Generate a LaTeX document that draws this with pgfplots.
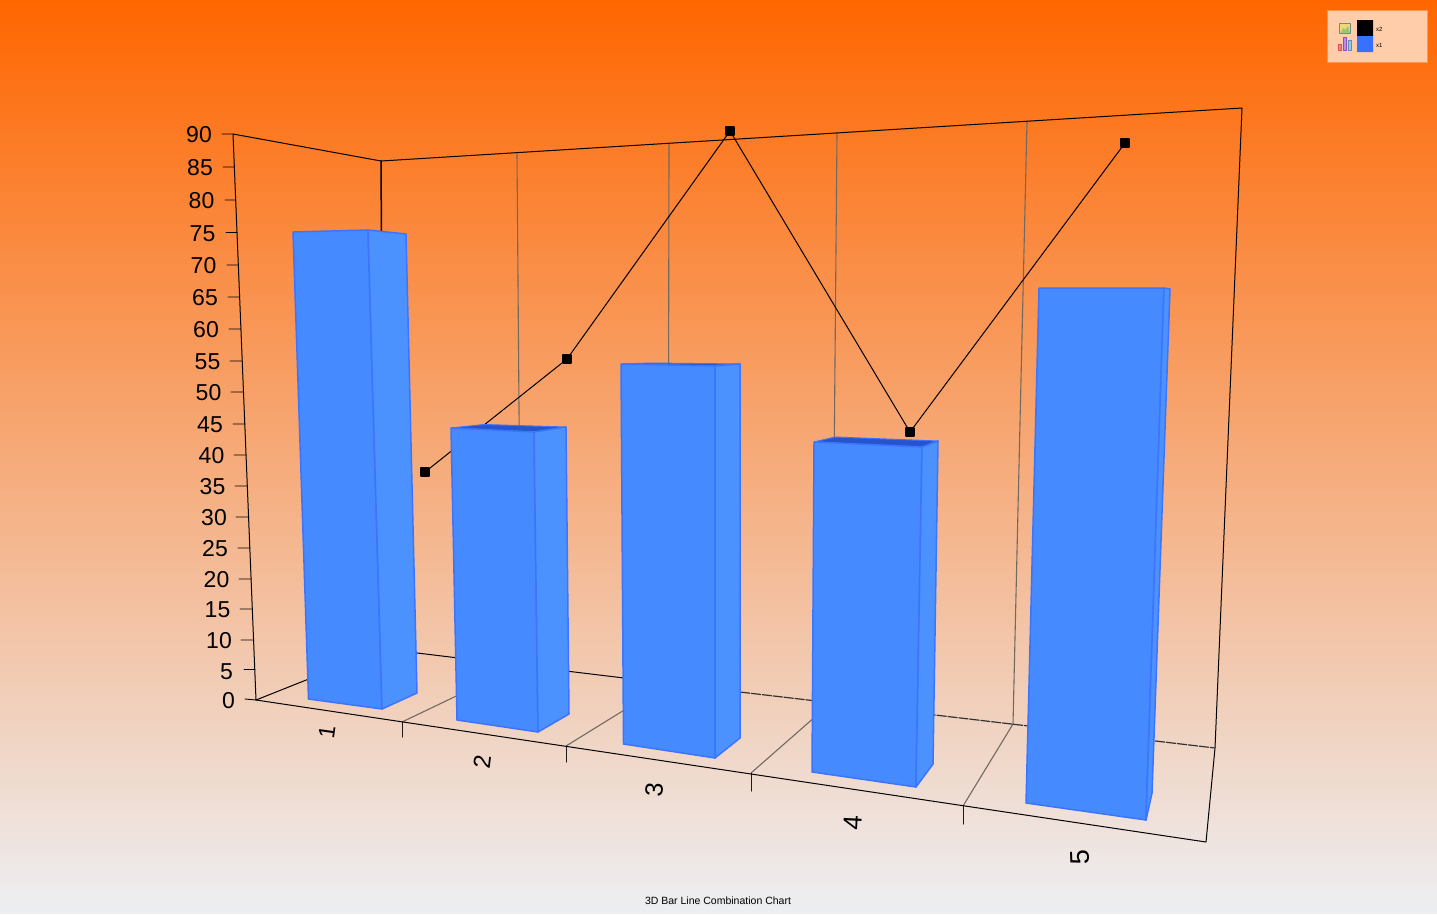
\documentclass[border=0pt]{standalone}
\usepackage{fontspec}
\setmainfont{Liberation Sans}
\usepackage{pgfplots}
\pgfplotsset{compat=1.18}
\definecolor{barfront}{RGB}{70,138,255}
\definecolor{barside}{RGB}{76,146,255}
\definecolor{baredge}{RGB}{60,116,255}
\definecolor{bartop}{RGB}{38,84,205}
\definecolor{gridc}{RGB}{115,105,95}
\definecolor{legbg}{RGB}{255,205,170}
\definecolor{legedge}{RGB}{255,150,80}
\definecolor{legblue}{RGB}{56,112,255}
\newcommand{\ylab}[3]{\node[anchor=east,inner sep=0pt,font=\fontsize{23}{23}\selectfont,text=black] at (axis cs:#1,#2+1) {#3};}
\newcommand{\xlab}[5]{\node[rotate=#4,inner sep=0pt,font=\fontsize{#5}{#5}\selectfont,text=black] at (axis cs:#1,#2+1.5) {#3};}
\begin{document}
\begin{tikzpicture}
% background gradient, painted as overlapping strips from top to bottom
\foreach \i in {0,2,...,912}{
  \pgfmathsetmacro{\t}{\i/914}
  \pgfmathsetmacro{\cr}{(255-18*\t)/255}
  \pgfmathsetmacro{\cg}{(102+137*\t)/255}
  \pgfmathsetmacro{\cb}{(243*\t)/255}
  \definecolor{strip}{rgb}{\cr,\cg,\cb}
  \fill[strip] (0pt,914pt-\i pt) rectangle (1437pt,0pt);
}
\begin{axis}[
  at={(0pt,0pt)}, anchor=south west,
  scale only axis, width=1437pt, height=914pt,
  xmin=0, xmax=1437, ymin=0, ymax=914, y dir=reverse,
  hide axis, clip=false, unbounded coords=jump,
  every axis plot/.append style={line join=round,line cap=round}
]
% back-wall grid verticals and floor grid lines
\addplot[gridc,line width=1.1pt] coordinates {
 (517,154)(521,665)(402,722)(nan,nan)
 (669,144)(668,683)(566,746)(nan,nan)
 (837,133)(832,702)(751,773)(nan,nan)
 (1027,121)(1013,724)(963,806)};
% x ticks
\addplot[black!75!gridc,line width=1pt] coordinates {
 (402,722)(402,737)(nan,nan)
 (566,746)(566,762)(nan,nan)
 (751,773)(751,791)(nan,nan)
 (963,806)(963,824)};
% y ticks
\addplot[black,line width=0.9pt] coordinates {
 (222,134)(233,134)(nan,nan)(223,167)(234.5,167)(nan,nan)(225,200)(235.8,200)(nan,nan)
 (226,232.5)(237,232.5)(nan,nan)(227,265)(238.5,265)(nan,nan)(228,297)(239.5,297)(nan,nan)
 (229,329)(240.8,329)(nan,nan)(230,361)(242,361)(nan,nan)(231,392)(243.5,392)(nan,nan)
 (233,424)(244.8,424)(nan,nan)(234,455)(246,455)(nan,nan)(235,486)(247.5,486)(nan,nan)
 (236,517)(248.8,517)(nan,nan)(238,548)(250,548)(nan,nan)(239,579)(251.2,579)(nan,nan)
 (240,609)(252.5,609)(nan,nan)(241,640)(253.8,640)(nan,nan)(244,669.5)(255,669.5)(nan,nan)
 (245,699)(256,700)};
% box frame
\addplot[black,line width=1pt] coordinates {(233,134)(256,700)(1206,842)(1215,748)(1242,108)(381,161)(233,134)};
\addplot[black,line width=1.5pt] coordinates {(381,161)(384,649)};
\addplot[black,line width=1pt] coordinates {(256,700)(384,649)(740,692)};
\addplot[black!80,line width=1.2pt,dash pattern=on 10pt off 1pt,line cap=butt] coordinates {(740,692)(1215,748)};
% line series
\addplot[black,line width=1pt,mark=square*,mark size=3.8pt,mark options={fill=black,line width=2.4pt,line join=round}] coordinates {
 (425,472)(567,359)(730,131)(910,432)(1125,143)};
% bars: bar 1
\addplot[fill=barfront,draw=baredge,line width=1.5pt] coordinates {(293,232)(368,230)(382,709)(308.5,699)(293,232)};
\addplot[fill=barside,draw=baredge,line width=1.5pt] coordinates {(368,230)(406,234)(417,693)(382,709)(368,230)};
% bar 2
\addplot[fill=bartop,draw=baredge,line width=1pt] coordinates {(451,428)(534,432)(566,427)(484,424.5)(451,428)};
\addplot[fill=barfront,draw=baredge,line width=1.5pt] coordinates {(451,428)(534,432)(538,732)(457,720)(451,428)};
\addplot[fill=barside,draw=baredge,line width=1.5pt] coordinates {(534,432)(566,427)(569,714)(538,732)(534,432)};
% bar 3
\addplot[fill=bartop,draw=baredge,line width=1pt] coordinates {(621,364)(715,366)(740,364)(650,363)(621,364)};
\addplot[fill=barfront,draw=baredge,line width=1.5pt] coordinates {(621,364)(715,366)(715,758)(623.5,744)(621,364)};
\addplot[fill=barside,draw=baredge,line width=1.5pt] coordinates {(715,366)(740,364)(740,738)(715,758)(715,366)};
% bar 4
\addplot[fill=bartop,draw=baredge,line width=1pt] coordinates {(814,442)(922,447)(938,441)(835,437)(814,442)};
\addplot[fill=barfront,draw=baredge,line width=1.5pt] coordinates {(814,442)(922,447)(916,787)(812,772)(814,442)};
\addplot[fill=barside,draw=baredge,line width=1.5pt] coordinates {(922,447)(938,441)(933,764)(916,787)(922,447)};
% bar 5
\addplot[fill=barfront,draw=baredge,line width=1.5pt] coordinates {(1039,288)(1164,288)(1146,820)(1026,803)(1039,288)};
\addplot[fill=barside,draw=baredge,line width=1.5pt] coordinates {(1164,288)(1170,289)(1152,793)(1146,820)(1164,288)};
% y labels
\ylab{212}{134}{90}\ylab{213}{167}{85}\ylab{214.5}{200}{80}\ylab{215.5}{232.5}{75}
\ylab{216.5}{265}{70}\ylab{218}{297}{65}\ylab{219}{329}{60}\ylab{220.5}{361}{55}
\ylab{221.5}{392}{50}\ylab{223}{424}{45}\ylab{224.5}{455}{40}\ylab{225.5}{486}{35}
\ylab{227}{517}{30}\ylab{228}{548}{25}\ylab{229.5}{579}{20}\ylab{230.5}{609}{15}
\ylab{232}{640}{10}\ylab{233}{671}{5}\ylab{235}{700}{0}
% x labels
\xlab{327}{731}{1}{82}{23}\xlab{482}{760}{2}{83}{24}\xlab{655}{788}{3}{85}{25}
\xlab{853}{821}{4}{87}{26}\xlab{1080}{856}{5}{92}{27}
% title
\node[inner sep=0pt,font=\fontsize{10.5}{10.5}\selectfont,text=black] at (axis cs:718,900.5) {3D Bar Line Combination Chart};
% legend
\addplot[fill=legbg,draw=legedge,line width=0.8pt] coordinates {(1327,10)(1427,10)(1427,62)(1327,62)(1327,10)};
\addplot[fill=black,draw=none] coordinates {(1357,20)(1373,20)(1373,36)(1357,36)(1357,20)};
\addplot[fill=legblue,draw=none] coordinates {(1357,36)(1373,36)(1373,52)(1357,52)(1357,36)};
\addplot[fill={rgb,255:red,240;green,215;blue,120},draw={rgb,255:red,110;green,140;blue,130},line width=0.8pt] coordinates {(1339.5,23.5)(1350.5,23.5)(1350.5,33.5)(1339.5,33.5)(1339.5,23.5)};
\addplot[fill={rgb,255:red,150;green,200;blue,120},draw=none] coordinates {(1340.5,33)(1343,28)(1345,30)(1348,26)(1350,33)(1340.5,33)};
\addplot[fill={rgb,255:red,240;green,130;blue,130},draw={rgb,255:red,225;green,80;blue,90},line width=0.7pt] coordinates {(1338.5,44.5)(1341.5,44.5)(1341.5,50.5)(1338.5,50.5)(1338.5,44.5)};
\addplot[fill={rgb,255:red,190;green,140;blue,230},draw={rgb,255:red,140;green,80;blue,190},line width=0.7pt] coordinates {(1343.5,37.5)(1346.5,37.5)(1346.5,50.5)(1343.5,50.5)(1343.5,37.5)};
\addplot[fill={rgb,255:red,150;green,200;blue,235},draw={rgb,255:red,90;green,140;blue,180},line width=0.7pt] coordinates {(1348.5,40.5)(1351.5,40.5)(1351.5,50.5)(1348.5,50.5)(1348.5,40.5)};
\node[anchor=west,inner sep=0pt,font=\fontsize{6}{6}\selectfont,text=black] at (axis cs:1376,29) {x2};
\node[anchor=west,inner sep=0pt,font=\fontsize{6}{6}\selectfont,text=black] at (axis cs:1376,45) {x1};
\end{axis}
\end{tikzpicture}
\end{document}
